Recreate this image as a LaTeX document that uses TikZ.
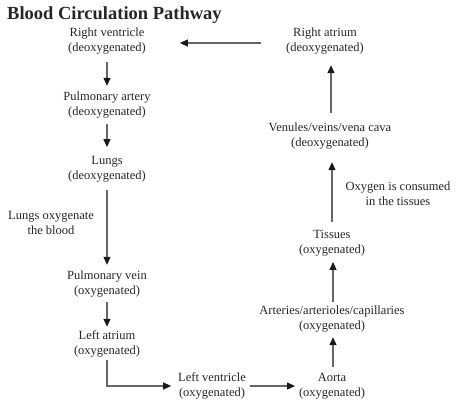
\documentclass[tikz,border=0pt]{standalone}
\usepackage{fontspec}
\setmainfont{Liberation Serif}
\usetikzlibrary{arrows.meta}
\begin{document}
\begin{tikzpicture}[x=1pt,y=-1pt,
  lbl/.style={align=center,font=\fontsize{12.5}{15}\selectfont,text=black!85,inner sep=0pt,outer sep=0pt},
  arr/.style={draw=black!60,line width=1.2pt,-{Triangle[length=8pt,width=7pt,color=black!90]}},
]
\useasboundingbox (0,0) rectangle (474,410);
\node[font=\fontsize{18.5}{20}\selectfont\bfseries,text=black!85,anchor=west,inner sep=0pt] (title) at (7,15) {Blood Circulation Pathway};
% left column
\node[lbl] (rv) at (107,41) {Right ventricle\\(deoxygenated)};
\node[lbl] (pa) at (107,105) {Pulmonary artery\\(deoxygenated)};
\node[lbl] (lungs) at (107,169) {Lungs\\(deoxygenated)};
\node[lbl] (pv) at (107,284) {Pulmonary vein\\(oxygenated)};
\node[lbl] (la) at (107,344) {Left atrium\\(oxygenated)};
\node[lbl] (lv) at (212,386) {Left ventricle\\(oxygenated)};
% right column
\node[lbl] (aorta) at (332,386) {Aorta\\(oxygenated)};
\node[lbl] (art) at (332,319) {Arteries/arterioles/capillaries\\(oxygenated)};
\node[lbl] (tis) at (332,243) {Tissues\\(oxygenated)};
\node[lbl] (ven) at (330,136) {Venules/veins/vena cava\\(deoxygenated)};
\node[lbl] (ra) at (325,41) {Right atrium\\(deoxygenated)};
% side labels
\node[lbl] (lox) at (51,223) {Lungs oxygenate\\the blood};
\node[lbl] (ocons) at (398,194) {Oxygen is consumed\\in the tissues};
% connectors
\draw[arr,shorten <=25pt,shorten >=34pt] ([yshift=-2pt]ra.west) -- ([yshift=-2pt]rv.east);
\draw[arr,shorten <=8pt,shorten >=6pt] (rv) -- (pa);
\draw[arr,shorten <=6pt,shorten >=9pt] (pa) -- (lungs);
\draw[arr,shorten <=8pt,shorten >=6pt] (lungs) -- (pv);
\draw[arr,shorten <=5pt,shorten >=4pt] (pv) -- (la);
\draw[arr,shorten <=3pt,shorten >=7pt] (la.south) |- (lv.west);
\draw[arr,shorten <=4pt,shorten >=4pt] (lv.east) -- (aorta.west);
\draw[arr,shorten <=6pt,shorten >=5pt] ([xshift=1pt]aorta.north) -- ([xshift=1pt]aorta.north |- art.south);
\draw[arr,shorten <=4pt,shorten >=6pt] ([xshift=1pt]art.north) -- ([xshift=1pt]art.north |- tis.south);
\draw[arr,shorten <=8pt,shorten >=13pt] (tis.north) -- (tis.north |- ven.south);
\draw[arr,shorten <=10pt,shorten >=11pt] ([xshift=1pt]ven.north) -- ([xshift=1pt]ven.north |- ra.south);
\end{tikzpicture}
\end{document}
